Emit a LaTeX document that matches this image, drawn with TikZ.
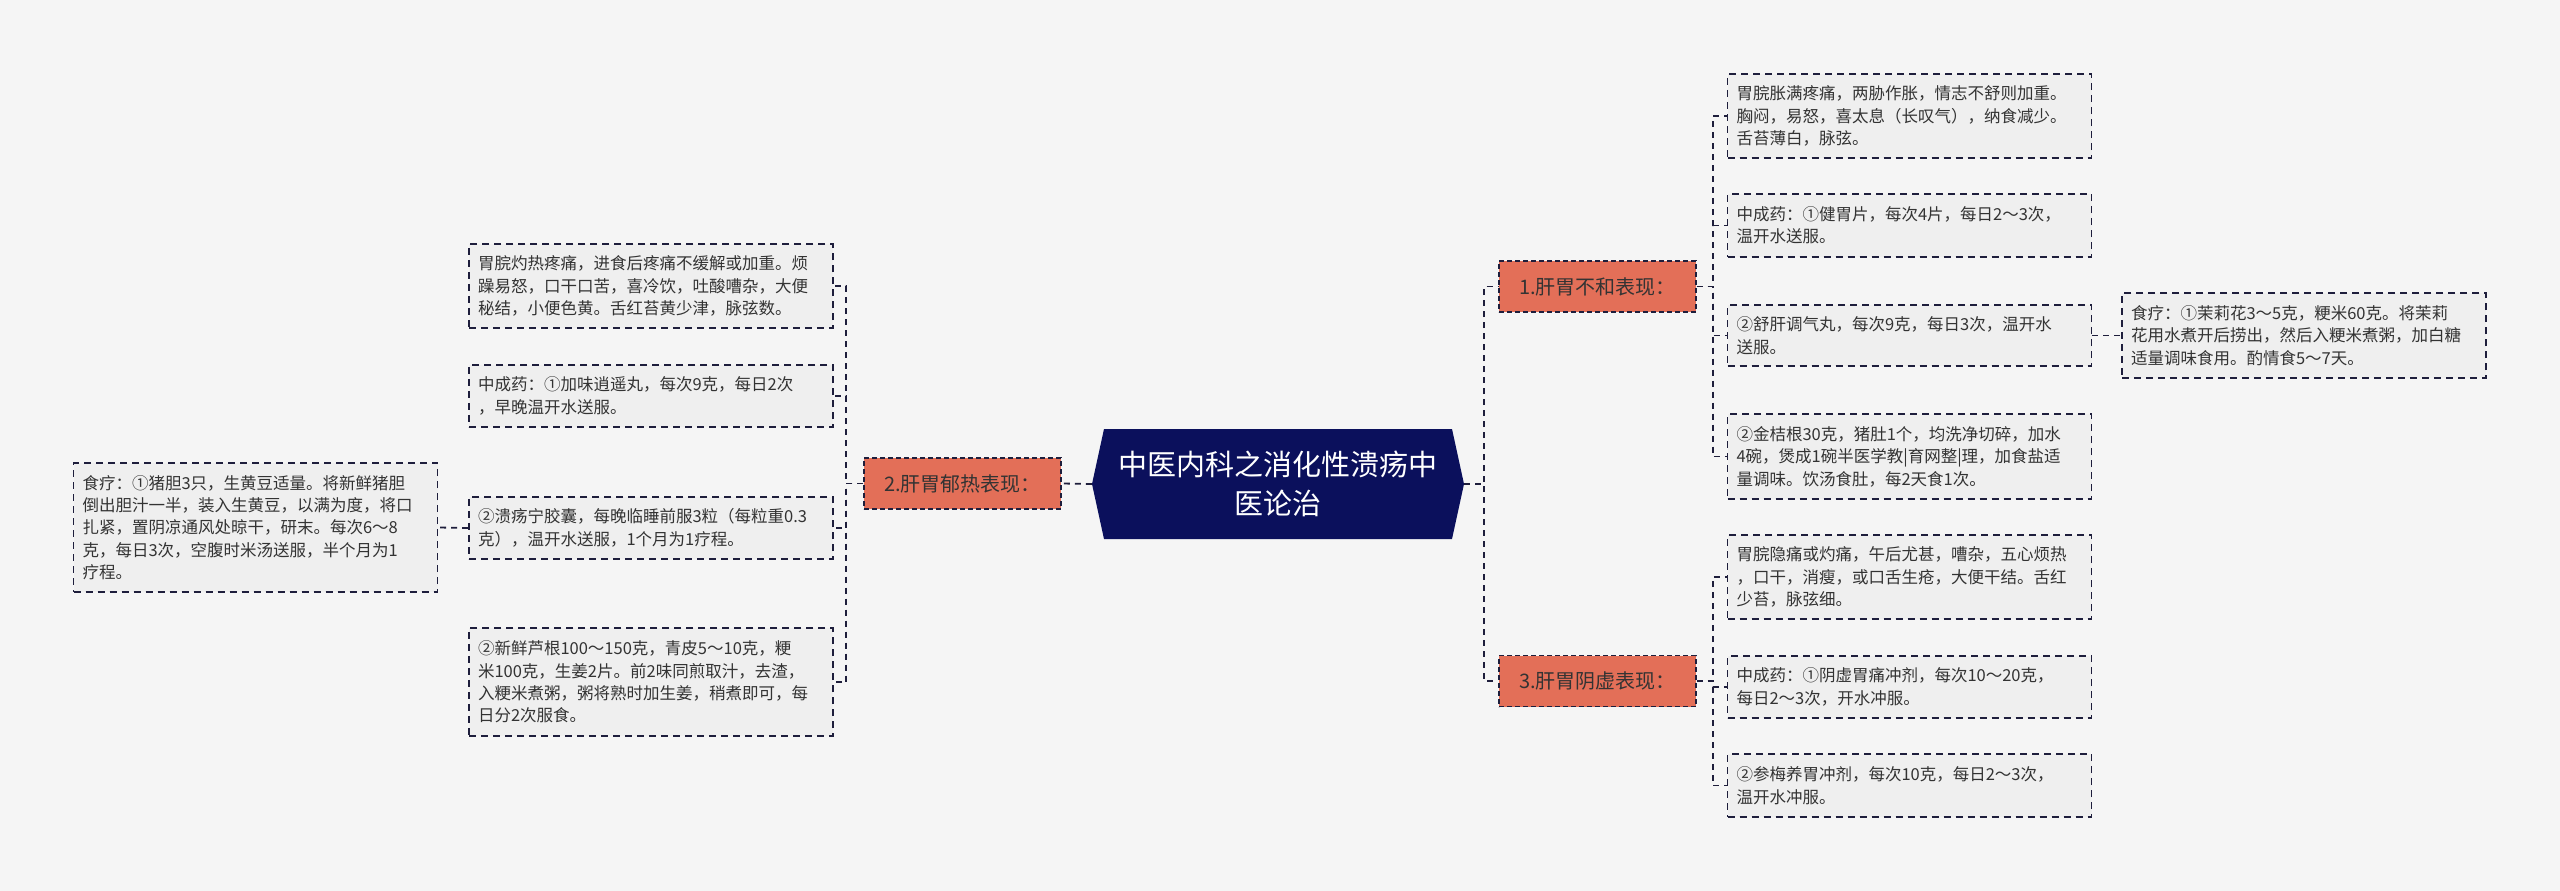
\documentclass[tikz,border=0pt]{standalone}
\usepackage{fontspec}
\setmainfont{Noto Sans CJK SC}
\definecolor{bgc}{HTML}{F5F5F5}
\definecolor{leaffill}{HTML}{EFEFEF}
\definecolor{bdc}{HTML}{1E1E3C}
\definecolor{txtc}{HTML}{333333}
\definecolor{lvlfill}{HTML}{E36F58}
\definecolor{cnavy}{HTML}{0B105C}
\tikzset{
  leafbox/.style={draw=bdc, line width=1.8pt, dash pattern=on 7pt off 5pt, fill=leaffill,
    text=txtc, align=left, text width=346pt, inner xsep=9pt, inner ysep=0pt,
    font=\fontsize{16.5pt}{22.4pt}\selectfont},
  lvlbox/.style={draw=bdc, line width=1.8pt, dash pattern=on 5pt off 3pt, fill=lvlfill,
    text=txtc, align=center, minimum width=197pt, minimum height=51pt, inner sep=0pt,
    font=\fontsize{20pt}{24pt}\selectfont},
  conn/.style={draw=bdc, line width=1.8pt, dash pattern=on 6pt off 5pt}
}
\begin{document}
\begin{tikzpicture}[x=1pt,y=-1pt]
\useasboundingbox[fill=bgc] (0,0) rectangle (2560,891);

% central topic
\fill[cnavy] (1092,484) -- (1104,429) -- (1452,429) -- (1464,484) -- (1452,539) -- (1104,539) -- cycle;
\node[text=white, align=center, minimum width=372pt, minimum height=110pt, inner sep=0pt,
  font=\fontsize{29pt}{39pt}\selectfont] (c) at (1278,484) {中医内科之消化性溃疡中\\医论治};

% level 1
\node[lvlbox] (n1) at (1597.5,286.5) {1.肝胃不和表现：};
\node[lvlbox] (n2) at (962.5,483.5) {2.肝胃郁热表现：};
\node[lvlbox] (n3) at (1597.5,681) {3.肝胃阴虚表现：};

% right leaves of n1
\node[leafbox, minimum height=84pt] (a1) at (1909.5,116) {胃脘胀满疼痛，两胁作胀，情志不舒则加重。\\胸闷，易怒，喜太息（长叹气），纳食减少。\\舌苔薄白，脉弦。};
\node[leafbox, minimum height=63pt] (a2) at (1909.5,225.5) {中成药：①健胃片，每次4片，每日2～3次，\\温开水送服。};
\node[leafbox, minimum height=61pt] (a3) at (1909.5,335.5) {②舒肝调气丸，每次9克，每日3次，温开水\\送服。};
\node[leafbox, minimum height=85pt] (a4) at (1909.5,456.5) {②金桔根30克，猪肚1个，均洗净切碎，加水\\4碗，煲成1碗半医学教|育网整|理，加食盐适\\量调味。饮汤食肚，每2天食1次。};
\node[leafbox, minimum height=85pt] (fa) at (2304,335.5) {食疗：①茉莉花3～5克，粳米60克。将茉莉\\花用水煮开后捞出，然后入粳米煮粥，加白糖\\适量调味食用。酌情食5～7天。};

% right leaves of n3
\node[leafbox, minimum height=84pt] (c1) at (1909.5,577) {胃脘隐痛或灼痛，午后尤甚，嘈杂，五心烦热\\，口干，消瘦，或口舌生疮，大便干结。舌红\\少苔，脉弦细。};
\node[leafbox, minimum height=62pt] (c2) at (1909.5,687) {中成药：①阴虚胃痛冲剂，每次10～20克，\\每日2～3次，开水冲服。};
\node[leafbox, minimum height=63pt] (c3) at (1909.5,785.5) {②参梅养胃冲剂，每次10克，每日2～3次，\\温开水冲服。};

% left leaves of n2
\node[leafbox, minimum height=84pt] (b1) at (651,286) {胃脘灼热疼痛，进食后疼痛不缓解或加重。烦\\躁易怒，口干口苦，喜冷饮，吐酸嘈杂，大便\\秘结，小便色黄。舌红苔黄少津，脉弦数。};
\node[leafbox, minimum height=62pt] (b2) at (651,396) {中成药：①加味逍遥丸，每次9克，每日2次\\，早晚温开水送服。};
\node[leafbox, minimum height=62pt] (b3) at (651,528) {②溃疡宁胶囊，每晚临睡前服3粒（每粒重0.3\\克），温开水送服，1个月为1疗程。};
\node[leafbox, minimum height=108pt] (b4) at (651,682) {②新鲜芦根100～150克，青皮5～10克，粳\\米100克，生姜2片。前2味同煎取汁，去渣，\\入粳米煮粥，粥将熟时加生姜，稍煮即可，每\\日分2次服食。};
\node[leafbox, minimum height=129pt] (fb) at (255.5,527.5) {食疗：①猪胆3只，生黄豆适量。将新鲜猪胆\\倒出胆汁一半，装入生黄豆，以满为度，将口\\扎紧，置阴凉通风处晾干，研末。每次6～8\\克，每日3次，空腹时米汤送服，半个月为1\\疗程。};

% connectors
\draw[conn] (c.east) -- ++(20,0) |- (n1.west);
\draw[conn] (c.east) -- ++(20,0) |- (n3.west);
\draw[conn] (c.west) -- (n2.east);
\foreach \t in {a1,a2,a3,a4} \draw[conn] (n1.east) -- ++(16,0) |- (\t.west);
\foreach \t in {c1,c2,c3} \draw[conn] (n3.east) -- ++(16,0) |- (\t.west);
\foreach \t in {b1,b2,b3,b4} \draw[conn] (n2.west) -- ++(-17,0) |- (\t.east);
\draw[conn] (a3.east) -- (fa.west);
\draw[conn] (b3.west) -- (fb.east);
\end{tikzpicture}
\end{document}
